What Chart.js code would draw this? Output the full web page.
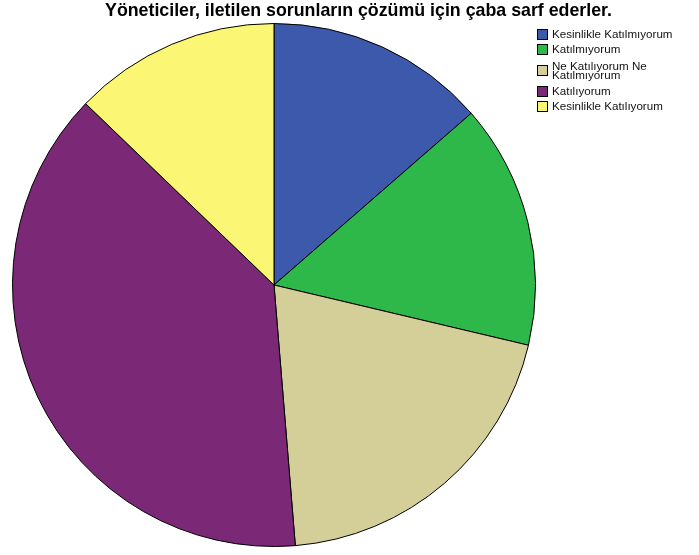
<!DOCTYPE html>
<html>
<head>
<meta charset="utf-8">
<script src="https://cdn.jsdelivr.net/npm/chart.js@4"></script>
<style>
  html, body { margin: 0; padding: 0; background: #fff; }
  #wrap { position: relative; width: 699px; height: 555px; }
  #pieChart { position: absolute; left: 0; top: 0; }
  #title {
    position: absolute; left: 0; top: 0px; width: 717px; text-align: center;
    font: bold 17.8px "Liberation Sans", Arial, sans-serif; color: #000; white-space: nowrap;
  }
  #legend { position: absolute; left: 537px; top: 29px; font: 11.6px "Liberation Sans", Arial, sans-serif; color: #111; }
  .item { position: relative; padding-left: 15px; line-height: 9.5px; }
  .sw { position: absolute; left: 0; width: 9px; height: 9px; border: 1px solid #000; }
</style>
</head>
<body>
<div id="wrap">
  <canvas id="pieChart" width="699" height="555"></canvas>
  <div id="title"></div>
  <div id="legend"></div>
</div>
<script>
const chartTitle = 'Yöneticiler, iletilen sorunların çözümü için çaba sarf ederler.';
const categories = ['Kesinlikle Katılmıyorum', 'Katılmıyorum', 'Ne Katılıyorum Ne Katılmıyorum', 'Katılıyorum', 'Kesinlikle Katılıyorum'];
const legendLines = [['Kesinlikle Katılmıyorum'], ['Katılmıyorum'], ['Ne Katılıyorum Ne', 'Katılmıyorum'], ['Katılıyorum'], ['Kesinlikle Katılıyorum']];
const values = [13.6, 15.1, 20.0, 38.5, 12.8];
const colors = ['#3d59ab', '#2fb84a', '#d4cf98', '#7b2877', '#fbf774'];

document.getElementById('title').textContent = chartTitle;

// legend rows (top of each swatch)
const rowTops = [0, 15, 36, 57, 72];
const legend = document.getElementById('legend');
legendLines.forEach((lines, i) => {
  const item = document.createElement('div');
  item.className = 'item';
  item.style.position = 'absolute';
  item.style.top = (lines.length > 1 ? rowTops[i] - 4.5 : rowTops[i]) + 'px';
  item.style.whiteSpace = 'nowrap';
  const sw = document.createElement('span');
  sw.className = 'sw';
  sw.style.background = colors[i];
  sw.style.top = (lines.length > 1 ? 4.5 : 0) + 'px';
  item.appendChild(sw);
  item.insertAdjacentHTML('beforeend', lines.join('<br>'));
  legend.appendChild(item);
});

const ctx = document.getElementById('pieChart').getContext('2d');
new Chart(ctx, {
  type: 'pie',
  data: {
    labels: categories,
    datasets: [{
      data: values,
      backgroundColor: colors,
      borderColor: '#000',
      borderWidth: 1,
      hoverOffset: 0
    }]
  },
  options: {
    responsive: false,
    animation: false,
    layout: { padding: { left: 12, top: 23, right: 163, bottom: 8 } },
    plugins: {
      legend: { display: false },
      title: { display: false },
      tooltip: { enabled: false }
    }
  }
});
</script>
</body>
</html>
